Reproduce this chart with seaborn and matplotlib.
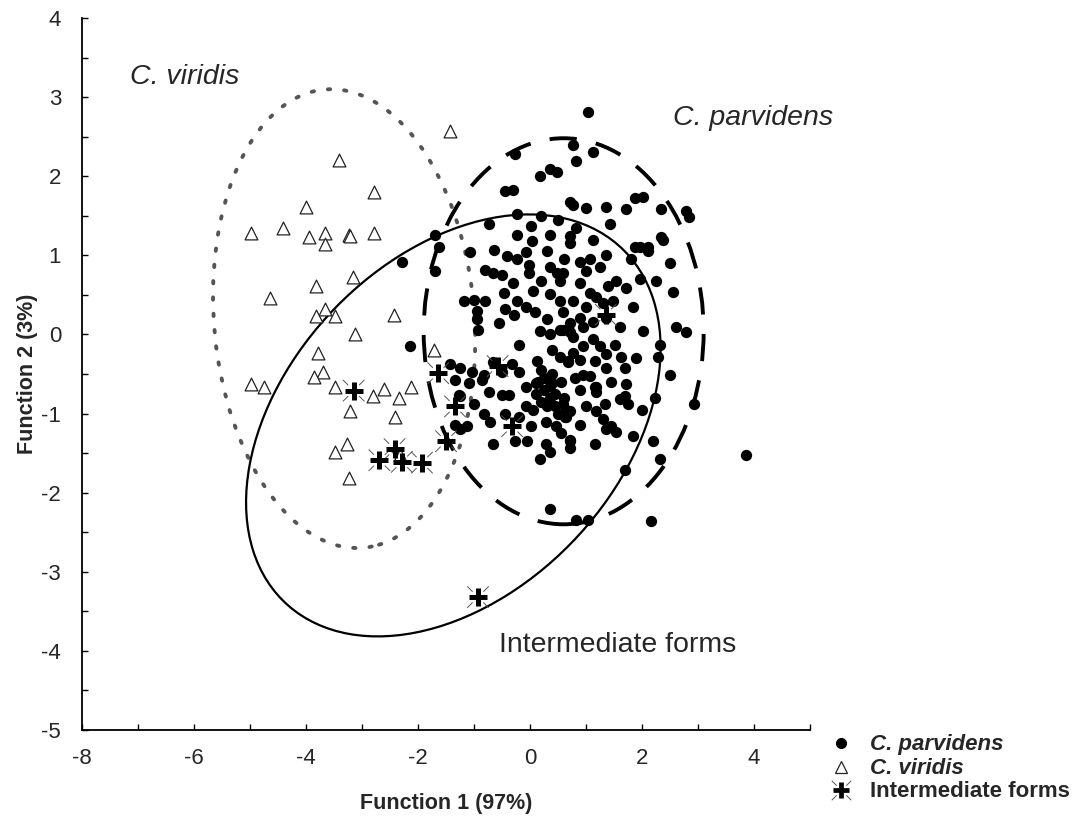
import numpy as np
import pandas as pd
import matplotlib
matplotlib.use("Agg")
import matplotlib.pyplot as plt
import seaborn as sns
from matplotlib.patches import Ellipse
from matplotlib.path import Path
from matplotlib.lines import Line2D
from matplotlib.ticker import MultipleLocator

# ---------------- data ----------------
groups = ["C. parvidens", "C. viridis", "Intermediate forms"]

parvidens_f1 = [
    -0.26, 0.35, 0.49, 0.17, -0.44, -0.30, 0.71, -0.23, -0.73, -0.23, 0.01, 0.04, 0.35, 0.71, -1.70, -1.63,
    1.03, 0.76, 1.12, 0.82, 1.87, 2.02, 0.76, 1.35, 1.71, 2.34, 2.79, 2.84, 1.43, 0.82, 1.12, 2.34, 1.96, 2.11,
    -1.07, -0.64, -0.41, -0.23, -0.08, 0.71, -1.70, -0.80, -0.67, -0.01, -0.01, 0.19, 0.35, 0.49, 0.53, -0.46,
    -0.23, -0.08, 0.08, -1.18, -1.00, -0.80, -0.94, -0.94, -0.93, -0.44, -0.28, 0.35, 0.53, 0.17, 0.35, 0.53,
    0.71, 0.71, -0.19, -2.15, 0.13, 0.53, 0.67, -1.43, -1.25, -1.03, -0.82, -0.67, -0.50, -0.32, -0.19, -1.34,
    -1.09, -0.85, 0.10, 0.40,
    1.87, 2.11, 2.38, 1.35, 0.89, 1.07, 1.00, 1.25, 0.58, 1.96, 2.25, 1.53, 1.71, 1.39, 1.07, 1.18, 2.56, 0.76,
    1.30, 1.48, 1.84, 0.58, 0.89, 1.12, 1.35, 0.58, 0.76, 0.94, 2.61, 2.79, 2.02, 1.12, 1.25, 1.35, 1.52, 2.32,
    2.29, 0.76, 0.89, 0.67, 1.16, 1.62, 1.69, 1.35, 0.94, 1.07, 2.50, 1.71, 1.18,
    -1.27, -1.00, -0.73, -0.50, -0.37, -0.82, -0.71, -1.34, -1.12, -1.25, -0.08, -0.08, 0.01, 0.28, 0.46, 0.62,
    -0.67, -0.26, -0.05, 0.28, 0.35, 0.17, 0.71, 0.71, 0.35,
    0.15, 0.25, 0.35, 0.45, 0.55, 0.20, 0.30, 0.45, 0.60, 0.65, 0.40, 0.25, 0.10, 0.50, 0.35,
    0.89, 1.16, 1.18, 1.69, 1.75, 1.61, 0.58, 0.64, 0.71, 1.18, 1.34, 1.30, 1.44, 1.53, 1.35, 2.23, 2.92, 1.84,
    2.20, 0.71, 1.16, 2.32, 3.85, 1.69, 2.16, 0.82, 1.03, -2.29, -1.25,
    0.20, 0.50, 1.00, 0.30, 0.60, -0.50, -0.30, 0.05, 0.90, 0.30, 1.00, 0.40, 0.20, 0.95, 0.80, 1.45,
    0.05, -0.20, 0.90, 1.00, 0.55, -0.45, 1.60, 1.90, 2.00, -0.55, 1.80, 2.50,
]
parvidens_f2 = [
    2.28, 2.09, 2.05, 2.00, 1.81, 1.83, 1.67, 1.52, 1.39, 1.26, 1.37, 1.18, 1.26, 1.24, 1.26, 1.11,
    2.81, 2.40, 2.30, 2.19, 1.73, 1.74, 1.64, 1.61, 1.58, 1.58, 1.56, 1.48, 1.39, 1.35, 1.20, 1.23, 1.11, 1.11,
    1.04, 1.07, 0.99, 0.95, 1.04, 1.16, 0.80, 0.82, 0.78, 0.88, 0.78, 0.67, 0.85, 0.78, 0.67, 0.53,
    0.42, 0.35, 0.28, 0.42, 0.44, 0.42, 0.29, 0.19, 0.06, 0.32, 0.25, 0.51, 0.42, 0.04, 0.00, 0.06,
    0.03, 0.15, -0.13, -0.15, -0.34, -0.29, -0.34, -0.38, -0.42, -0.47, -0.51, -0.35, -0.47, -0.38, -0.47, -0.57,
    -0.61, -0.57, -0.61, -0.61,
    1.10, 1.05, 1.20, 1.01, 0.91, 0.95, 0.80, 0.85, 0.78, 0.70, 0.67, 0.67, 0.59, 0.61, 0.53, 0.47, 0.54, 0.42,
    0.40, 0.42, 0.35, 0.28, 0.21, 0.16, 0.21, 0.06, -0.03, 0.09, 0.10, 0.03, 0.04, -0.06, -0.15, -0.25, -0.13, -0.13,
    -0.28, -0.23, -0.32, -0.35, -0.34, -0.29, -0.42, -0.42, -0.51, -0.53, -0.51, -0.63, -0.66,
    -0.76, -0.88, -0.73, -0.76, -0.76, -1.01, -1.11, -1.14, -1.16, -1.20, -0.66, -0.91, -1.16, -1.11, -1.16, -1.05,
    -1.39, -1.35, -1.35, -1.39, -1.49, -1.58, -1.35, -1.43, -2.21,
    -0.60, -0.70, -0.65, -0.75, -0.60, -0.85, -0.90, -0.90, -0.80, -0.95, -0.50, -0.55, -0.75, -1.00, -0.80,
    -0.70, -0.67, -0.73, -0.78, -0.88, -0.82, -0.88, -1.04, -0.97, -0.97, -0.88, -1.07, -1.16, -1.23, -1.20, -0.80, -0.88, -1.29,
    -1.35, -1.33, -1.39, -1.58, -1.53, -1.71, -2.36, -2.34, -2.34, 0.91, -0.78,
    1.50, 1.45, 1.60, 1.05, 0.95, 0.75, 0.65, 0.55, 0.65, 0.20, 0.35, -0.20, -0.45, -0.15, -0.55, -0.60,
    -0.95, -1.05, -1.15, -0.90, -1.25, -1.00, 0.10, -0.30, -0.95, 0.15, 0.95, 0.90,
]

viridis_f1 = [
    -1.43, -3.42, -2.78, -4.00, -4.98, -4.41, -3.94, -3.67, -3.67, -3.24, -3.22, -2.79, -3.17, -3.83, -4.64,
    -3.67, -3.82, -3.48, -2.43, -3.12, -3.78, -1.72, -3.69, -3.85, -4.98, -4.75, -3.49, -2.81, -2.61, -2.34,
    -2.13, -3.21, -2.42, -3.48, -3.26, -3.24, -2.33,
]
viridis_f2 = [
    2.57, 2.21, 1.80, 1.61, 1.28, 1.34, 1.23, 1.28, 1.14, 1.26, 1.24, 1.28, 0.73, 0.61, 0.46,
    0.32, 0.23, 0.23, 0.24, 0.00, -0.24, -0.20, -0.47, -0.54, -0.63, -0.67, -0.67, -0.78, -0.69, -0.80,
    -0.66, -0.97, -1.05, -1.48, -1.38, -1.81, -1.52,
]

intermediate_f1 = [-3.15, -1.64, -1.34, -1.50, -2.69, -2.42, -2.29, -1.93, -0.32, 1.35, -0.58, -0.93]
intermediate_f2 = [-0.71, -0.49, -0.91, -1.35, -1.59, -1.45, -1.61, -1.62, -1.16, 0.25, -0.40, -3.32]

# group ellipses (parvidens, viridis, intermediate)
ellipse_center_f1 = [0.60, -3.32, -1.37]
ellipse_center_f2 = [0.04, 0.20, -1.15]
ellipse_width = [5.00, 4.62, 7.82]
ellipse_height = [4.88, 5.85, 4.70]
ellipse_angle = [0.0, 12.3, 23.8]

x_ticks = [-8, -6, -4, -2, 0, 2, 4]
y_ticks = [-5, -4, -3, -2, -1, 0, 1, 2, 3, 4]
x_label = "Function 1 (97%)"
y_label = "Function 2 (3%)"

# ---------------- build tables ----------------
df = pd.concat([
    pd.DataFrame({"f1": parvidens_f1, "f2": parvidens_f2, "group": groups[0]}),
    pd.DataFrame({"f1": viridis_f1, "f2": viridis_f2, "group": groups[1]}),
    pd.DataFrame({"f1": intermediate_f1, "f2": intermediate_f2, "group": groups[2]}),
], ignore_index=True)

sns.set_style("ticks")
plt.rcParams["font.family"] = ["Liberation Sans", "DejaVu Sans"]
plt.rcParams["axes.unicode_minus"] = False

fig = plt.figure(figsize=(10.91, 8.18), dpi=100)
ax = fig.add_axes([0.0752, 0.1076, 0.6673, 0.8704])

# ellipses
styles = [
    dict(edgecolor="black", linewidth=2.8, linestyle=(0, (7, 5))),
    dict(edgecolor="#555555", linewidth=2.8, linestyle=(0, (0.6, 3.6)), capstyle="round"),
    dict(edgecolor="black", linewidth=1.6, linestyle="-"),
]
for i in range(3):
    e = Ellipse((ellipse_center_f1[i], ellipse_center_f2[i]), ellipse_width[i], ellipse_height[i],
                angle=ellipse_angle[i], fill=False, zorder=2, **styles[i])
    ax.add_patch(e)

# points
sns.scatterplot(data=df[df.group == groups[0]], x="f1", y="f2", marker="o", s=66,
                color="black", linewidth=0, ax=ax, legend=False, zorder=3)
sns.scatterplot(data=df[df.group == groups[1]], x="f1", y="f2", marker="^", s=85,
                color="white", edgecolor="#222222", linewidth=0.9, ax=ax, legend=False, zorder=4)

diag_path = Path(
    [(0.5, 0.5), (1, 1), (-0.5, 0.5), (-1, 1), (0.5, -0.5), (1, -1), (-0.5, -0.5), (-1, -1)],
    [Path.MOVETO, Path.LINETO] * 4,
)
sub = df[df.group == groups[2]]
sns.scatterplot(data=sub, x="f1", y="f2", marker=diag_path, s=240, color="none",
                edgecolor="#555555", linewidth=0.7, ax=ax, legend=False, zorder=5)
sns.scatterplot(data=sub, x="f1", y="f2", marker="+", s=150, color="black",
                linewidth=3.6, ax=ax, legend=False, zorder=6)

# annotations
ax.text(-6.17, 3.25, "C. viridis", style="italic", fontsize=20.5, ha="center", va="center")
ax.text(3.99, 2.74, "C. parvidens", style="italic", fontsize=20.5, ha="center", va="center")
ax.text(1.57, -3.92, "Intermediate forms", fontsize=20.5, ha="center", va="center")

# axes
ax.set_xlim(-8, 5)
ax.set_ylim(-5, 4)
ax.set_xticks(x_ticks)
ax.set_yticks(y_ticks)
ax.xaxis.set_minor_locator(MultipleLocator(1))
ax.yaxis.set_minor_locator(MultipleLocator(0.5))
ax.tick_params(which="both", direction="in", length=4, width=1, color="black")
ax.tick_params(axis="x", labelsize=16, pad=13)
ax.tick_params(axis="y", labelsize=16, pad=15)
for s in ["top", "right"]:
    ax.spines[s].set_visible(False)
for s in ["left", "bottom"]:
    ax.spines[s].set_linewidth(1.3)
    ax.spines[s].set_color("black")
ax.set_xlabel(x_label, fontsize=15.5, fontweight="bold")
ax.set_ylabel(y_label, fontsize=15.5, fontweight="bold")
ax.xaxis.set_label_coords(0.5, -0.088)
ax.yaxis.set_label_coords(-0.061, 0.5)

# legend
h1 = Line2D([], [], marker="o", markersize=7, color="black", linestyle="none")
h2 = Line2D([], [], marker="^", markersize=9, markerfacecolor="white", markeredgecolor="#222222",
            markeredgewidth=0.9, linestyle="none")
h3a = Line2D([], [], marker=diag_path, markersize=14, color="#555555", markeredgewidth=0.7,
             markerfacecolor="none", linestyle="none")
h3b = Line2D([], [], marker="+", markersize=11, color="black", markeredgewidth=3.4, linestyle="none")
leg = ax.legend([h1, h2, (h3a, h3b)], groups, loc="upper left",
                bbox_to_anchor=(828 / 1091, 1 - 734 / 818), bbox_transform=fig.transFigure,
                frameon=False, borderpad=0, borderaxespad=0, handlelength=1.2, handletextpad=0.7,
                handleheight=0.5, labelspacing=0.12, prop={"size": 16, "weight": "bold"})
for t in leg.get_texts()[:2]:
    t.set_style("italic")

fig.savefig("out.png", dpi=100)
